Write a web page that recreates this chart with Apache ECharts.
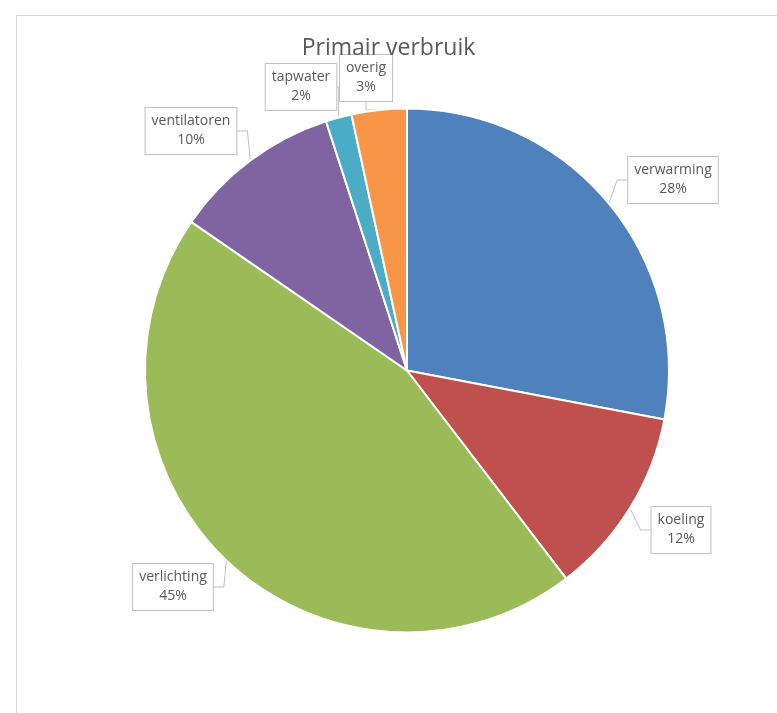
<!DOCTYPE html>
<html><head><meta charset="utf-8">
<script src="https://cdn.jsdelivr.net/npm/echarts@6/dist/echarts.min.js"></script>
<style>html,body{margin:0;padding:0;background:#fff}#c{width:777px;height:713px}</style>
</head><body><div id="c"></div>
<script>
const categories = ['verwarming','koeling','verlichting','ventilatoren','tapwater','overig'];
const values = [28.0, 11.6, 45.0, 10.4, 1.6, 3.4];
const colors = ['#4F81BD','#C0504D','#9BBB59','#8064A2','#4BACC6','#F79646'];
const labelPos = [[673,180],[681,530],[173,587],[191,131],[301,87],[366,78]];

const chart = echarts.init(document.getElementById('c'), null, {renderer:'canvas'});
const font = '"Open Sans",sans-serif';
chart.setOption({
  animation:false,
  backgroundColor:'#fff',
  graphic:[{type:'rect',shape:{x:16.5,y:15.5,width:800,height:800},style:{fill:'none',stroke:'#d9d9d9',lineWidth:1}}],
  title:{text:'Primair verbruik',left:'center',top:32,textStyle:{fontFamily:font,fontSize:23,fontWeight:'normal',color:'#595959'}},
  series:[{
    type:'pie',
    center:[407,370.5],
    radius:262,
    startAngle:90,
    clockwise:true,
    itemStyle:{borderColor:'#fff',borderWidth:2},
    data:categories.map((c,i)=>({name:c,value:values[i],itemStyle:{color:colors[i]}})),
    label:{
      show:true,
      formatter:p=>p.name+'\n'+Math.round(p.percent)+'%',
      fontFamily:font,fontSize:14,color:'#595959',lineHeight:19,align:'center',
      backgroundColor:'#fff',borderColor:'#bfbfbf',borderWidth:1,padding:[4,6,4,6]
    },
    labelLine:{show:true,length:10,length2:10,lineStyle:{color:'#bfbfbf',width:1}},
    labelLayout:function(p){
      const pos = labelPos[p.dataIndex];
      return {x:pos[0],y:pos[1],align:'center',verticalAlign:'middle'};
    }
  }]
});
</script></body></html>
